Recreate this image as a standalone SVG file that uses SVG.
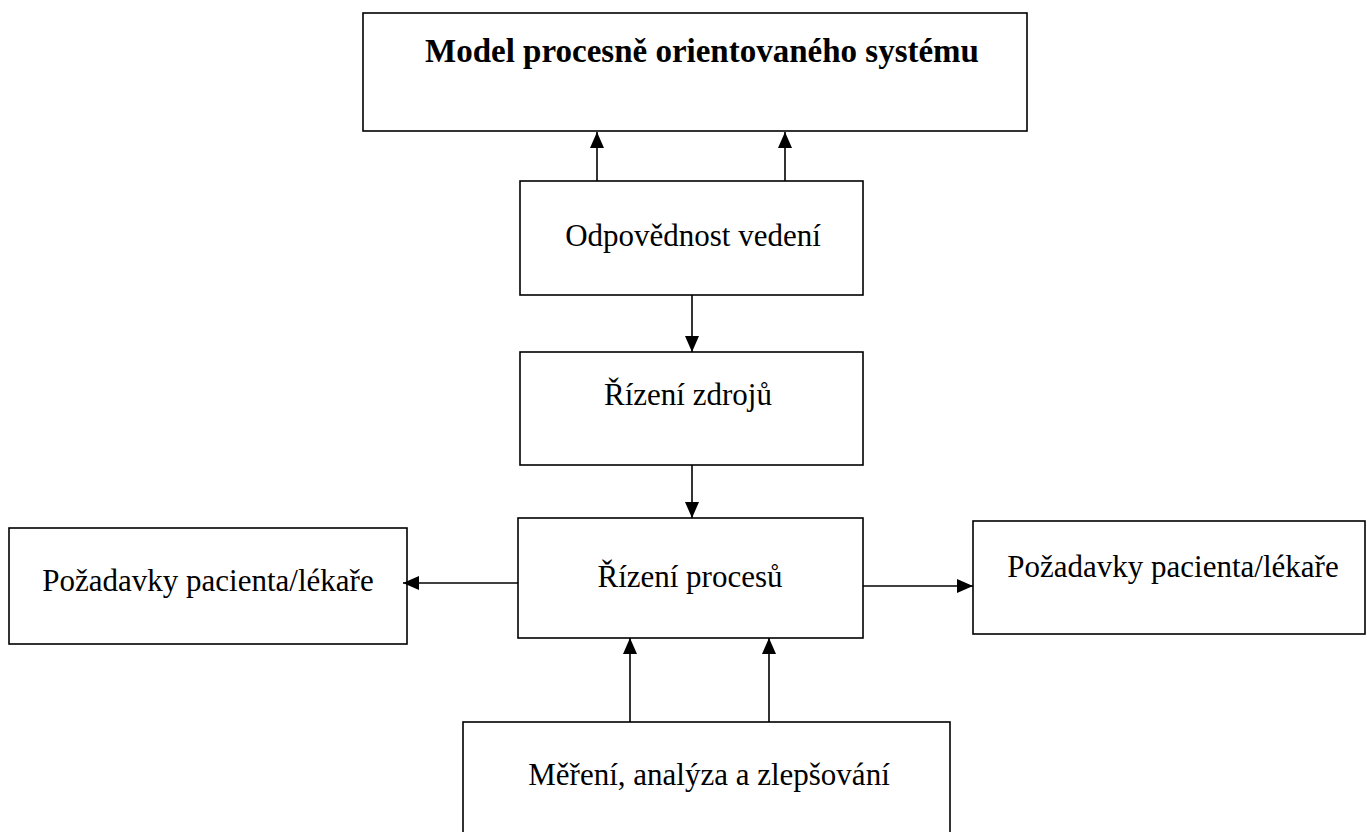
<svg xmlns="http://www.w3.org/2000/svg" width="1367" height="832" viewBox="0 0 1367 832">
  <style>
    .box { fill: #ffffff; stroke: #000000; stroke-width: 1.6; }
    .label { font-family: "Liberation Serif", "Times New Roman", serif; font-size: 31px; fill: #000000; text-anchor: middle; }
    .title { font-family: "Liberation Serif", "Times New Roman", serif; font-size: 33px; font-weight: bold; fill: #000000; text-anchor: middle; }
    .conn { stroke: #000000; stroke-width: 1.6; fill: none; marker-end: url(#arrow); }
  </style>
  <defs>
    <marker id="arrow" markerUnits="userSpaceOnUse" markerWidth="16" markerHeight="16" viewBox="0 0 16 16" refX="16" refY="8" orient="auto">
      <path d="M0,1 L16,8 L0,15 Z" fill="#000000"/>
    </marker>
  </defs>
  <rect width="1367" height="832" fill="#ffffff"/>

  <g id="model">
    <rect class="box" x="363" y="13" width="664" height="118"/>
    <text class="title" x="702" y="62">Model procesně orientovaného systému</text>
  </g>

  <g id="odpovednost">
    <rect class="box" x="520" y="181" width="343" height="114"/>
    <text class="label" x="693" y="246">Odpovědnost vedení</text>
  </g>

  <g id="rizeni-zdroju">
    <rect class="box" x="520" y="352" width="343" height="113"/>
    <text class="label" x="688" y="405">Řízení zdrojů</text>
  </g>

  <g id="rizeni-procesu">
    <rect class="box" x="518" y="518" width="345" height="120"/>
    <text class="label" x="690" y="587">Řízení procesů</text>
  </g>

  <g id="pozadavky-left">
    <rect class="box" x="9" y="528" width="398" height="116"/>
    <text class="label" x="208" y="591">Požadavky pacienta/lékaře</text>
  </g>

  <g id="pozadavky-right">
    <rect class="box" x="973" y="521" width="392" height="113"/>
    <text class="label" x="1173" y="577">Požadavky pacienta/lékaře</text>
  </g>

  <g id="mereni">
    <rect class="box" x="463" y="722" width="487" height="120"/>
    <text class="label" x="709" y="785">Měření, analýza a zlepšování</text>
  </g>

  <g id="connectors">
    <line class="conn" x1="597" y1="181" x2="597" y2="132"/>
    <line class="conn" x1="785" y1="181" x2="785" y2="132"/>
    <line class="conn" x1="692" y1="295" x2="692" y2="352"/>
    <line class="conn" x1="692" y1="465" x2="692" y2="518"/>
    <line class="conn" x1="518" y1="583" x2="403" y2="583"/>
    <line class="conn" x1="863" y1="586" x2="973" y2="586"/>
    <line class="conn" x1="630" y1="722" x2="630" y2="638"/>
    <line class="conn" x1="769" y1="722" x2="769" y2="638"/>
  </g>
</svg>
